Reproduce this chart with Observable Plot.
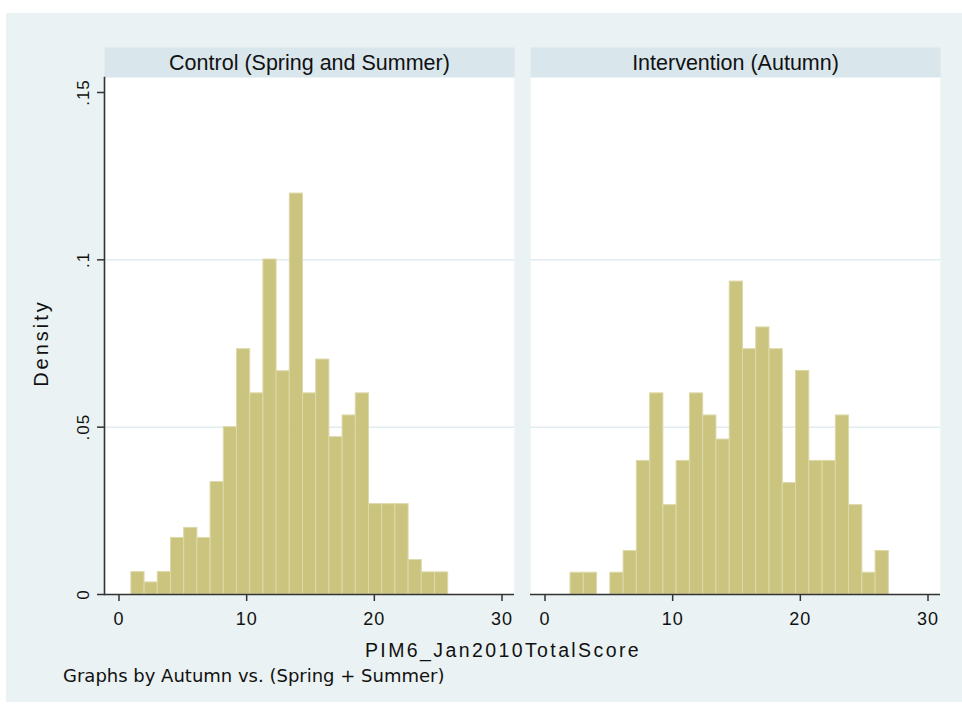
<!DOCTYPE html>
<html><head><meta charset="utf-8">
<script src="https://cdn.jsdelivr.net/npm/d3@7"></script>
<script src="https://cdn.jsdelivr.net/npm/@observablehq/plot@0.6"></script>
<style>
html,body{margin:0;padding:0;background:#fff;}
#bg{position:absolute;left:6px;top:13px;width:956px;height:689px;background:#EAF2F3;}
#chart{position:absolute;left:0;top:0;}
</style></head><body>
<div id="bg"></div><div id="chart"></div>
<script>
const panels = ["Control (Spring and Summer)", "Intervention (Autumn)"];
const controlDensity = [0.0067, 0.0036, 0.0067, 0.0169, 0.0199, 0.0169, 0.0336, 0.0500, 0.0733, 0.0601, 0.1001, 0.0667, 0.1198, 0.0601, 0.0702, 0.0470, 0.0535, 0.0601, 0.0270, 0.0270, 0.0270, 0.0103, 0.0066, 0.0066];
const interventionDensity = [0.0065, 0.0065, 0, 0.0065, 0.0130, 0.0399, 0.0601, 0.0267, 0.0399, 0.0601, 0.0535, 0.0463, 0.0935, 0.0733, 0.0798, 0.0733, 0.0333, 0.0668, 0.0399, 0.0399, 0.0535, 0.0267, 0.0065, 0.0130];
const binStart = [0.97, 2.0];
const binWidth = [1.034, 1.039];
const xTicks = [0, 10, 20, 30];
const yTicks = [0, 0.05, 0.1, 0.15];
const yTickLabels = ["0", ".05", ".1", ".15"];
const yGrid = [0.05, 0.1];
const xTitle = "PIM6_Jan2010TotalScore";
const yTitle = "Density";
const note = "Graphs by Autumn vs. (Spring + Summer)";

const bins = [];
[controlDensity, interventionDensity].forEach((arr, p) => arr.forEach((d, i) => {
  if (d > 0) bins.push({panel: panels[p], x1: binStart[p] + i * binWidth[p], x2: binStart[p] + (i + 1) * binWidth[p], density: d});
}));

const chart = Plot.plot({
  width: 962, height: 706,
  marginLeft: 104, marginRight: 22, marginTop: 77, marginBottom: 112,
  style: {background: "transparent", fontFamily: "'Liberation Sans', Arial, sans-serif", color: "#111"},
  fx: {domain: panels, paddingInner: 0.0376, paddingOuter: 0, axis: null, label: null},
  x: {domain: [0, 30], insetLeft: 14.5, insetRight: 12.5},
  y: {domain: [0, 0.15], insetTop: 15},
  marks: [
    Plot.frame({fill: "#D9E6EC", stroke: "none", insetTop: -30}),
    Plot.frame({fill: "white", stroke: "none"}),
    Plot.gridY(yGrid, {stroke: "#E1EBF0", strokeOpacity: 1, strokeWidth: 1.5}),
    Plot.rectY(bins, {fx: "panel", x1: "x1", x2: "x2", y: "density", fill: "#CAC47F", stroke: "#DDD9A8", strokeWidth: 1, inset: 0}),
    Plot.ruleY([0], {stroke: "#333", strokeWidth: 1.6}),
    Plot.frame({anchor: "left", facetAnchor: "left", stroke: "#333", strokeWidth: 1.6}),
    Plot.axisX(xTicks, {tickSize: 7, tickPadding: 11, fontSize: 18, stroke: "#333", strokeWidth: 1.5, tickFormat: d => String(d), label: null}),
    Plot.axisY(yTicks, {tickSize: 7, tickPadding: 9, tickRotate: -90, fontSize: 17, stroke: "#333", strokeWidth: 1.5, tickFormat: d => yTickLabels[yTicks.indexOf(d)], label: null}),
    Plot.text(panels, {fx: d => d, text: d => d, frameAnchor: "top", dy: -14, lineAnchor: "middle", fontSize: 21.5, fill: "#111"})
  ]
});
document.getElementById("chart").appendChild(chart);

const svg = d3.select(chart.tagName.toLowerCase() === "svg" ? chart : chart.querySelector("svg"));
svg.selectAll('g[aria-label="x-axis tick label"]').attr("font-size", 18).style("font-size", "18px").attr("letter-spacing", "1px");
svg.selectAll('g[aria-label="x-axis tick label"] text').style("font-size", "18px");
svg.selectAll('g[aria-label="y-axis tick label"]').attr("font-size", 17).style("font-size", "17px").attr("letter-spacing", "1px");
svg.selectAll('g[aria-label="y-axis tick label"] text').style("font-size", "17px");
svg.append("text").attr("x", 503).attr("y", 657).attr("text-anchor", "middle")
  .attr("font-size", 19.5).attr("letter-spacing", "2.4px").attr("fill", "#111").text(xTitle);
svg.append("text").attr("transform", "translate(48,343) rotate(-90)").attr("text-anchor", "middle")
  .attr("font-size", 20).attr("letter-spacing", "3px").attr("fill", "#111").text(yTitle);
svg.append("text").attr("x", 63).attr("y", 681.5).attr("text-anchor", "start")
  .attr("font-family", "'DejaVu Sans', sans-serif").attr("font-size", 18).attr("fill", "#111").text(note);
</script>
</body></html>
